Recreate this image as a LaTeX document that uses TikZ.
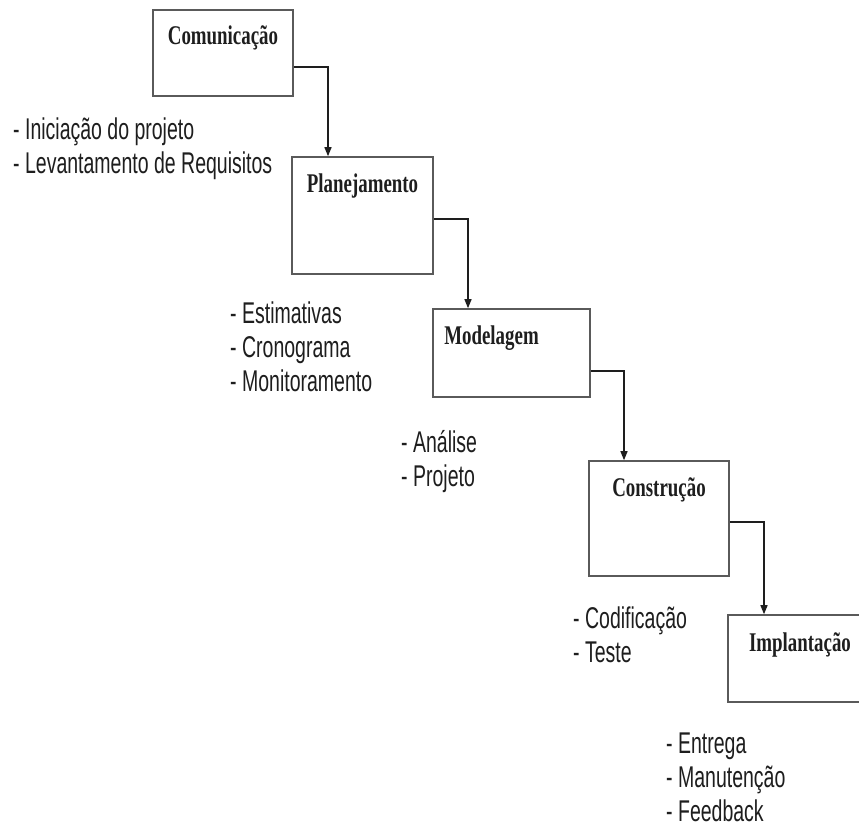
\documentclass[tikz,border=0pt]{standalone}
\usepackage{fontspec}
\usetikzlibrary{arrows.meta}
\setmainfont{Liberation Serif}
\newfontfamily\titlefont[FakeStretch=0.7]{Liberation Serif}
\newfontfamily\listfont[FakeStretch=0.65]{Liberation Sans}
\definecolor{boxline}{HTML}{5A5A5A}
\definecolor{ink}{HTML}{1E1E1E}
\tikzset{
  stage/.style={draw=boxline, line width=1.6pt, fill=white, inner sep=0pt},
  stagetitle/.style={anchor=base, inner sep=0pt, text=ink,
    font=\titlefont\bfseries\fontsize{27}{30}\selectfont},
  tasks/.style={anchor=base west, inner sep=0pt, text=ink,
    font=\listfont\fontsize{30}{34}\selectfont},
  flow/.style={draw=ink, line width=1.3pt, -{Triangle[length=9pt,width=7pt]}}
}
\newcommand\tasklist[1]{\begin{tabular}[t]{@{}l@{}}#1\end{tabular}}
\begin{document}
\begin{tikzpicture}[x=1pt,y=-1pt]
\useasboundingbox (0,0) rectangle (859,830);
\fill[white] (0,0) rectangle (859,830);
\clip (0,0) rectangle (859,830);

% stage boxes
\node[stage, minimum width=140pt, minimum height=86pt]  (c1) at (223,53) {};
\node[stage, minimum width=141pt, minimum height=117pt] (c2) at (362.5,215.5) {};
\node[stage, minimum width=157pt, minimum height=88pt]  (c3) at (511.5,353) {};
\node[stage, minimum width=140pt, minimum height=115pt] (c4) at (659,518.5) {};
\node[stage, minimum width=144pt, minimum height=87pt]  (c5) at (800,658.5) {};

% stage titles
\node[stagetitle] (t1) at ([yshift=-35pt]c1.north) {Comunicação};
\node[stagetitle] (t2) at ([yshift=-36pt]c2.north) {Planejamento};
\node[stagetitle] (t3) at ([xshift=-20pt,yshift=-36pt]c3.north) {Modelagem};
\node[stagetitle] (t4) at ([yshift=-36pt]c4.north) {Construção};
\node[stagetitle] (t5) at ([yshift=-37pt]c5.north) {Implantação};

% flow between stages
\draw[flow] ([yshift=-14pt]c1.east) -| ([xshift=-34.5pt]c2.north);
\draw[flow] ([yshift=-3.5pt]c2.east) -| ([xshift=-43.5pt]c3.north);
\draw[flow] ([yshift=-18pt]c3.east) -| ([xshift=-35pt]c4.north);
\draw[flow] ([yshift=-3.5pt]c4.east) -| ([xshift=-36pt]c5.north);

% activities of each stage
\node[tasks] (l1) at (13,139) {\tasklist{- Iniciação do projeto\\- Levantamento de Requisitos}};
\node[tasks] (l2) at (230,323) {\tasklist{- Estimativas\\- Cronograma\\- Monitoramento}};
\node[tasks] (l3) at (401,452) {\tasklist{- Análise\\- Projeto}};
\node[tasks] (l4) at (573,628) {\tasklist{- Codificação\\- Teste}};
\node[tasks] (l5) at (666,753) {\tasklist{- Entrega\\- Manutenção\\- Feedback}};
\end{tikzpicture}
\end{document}
